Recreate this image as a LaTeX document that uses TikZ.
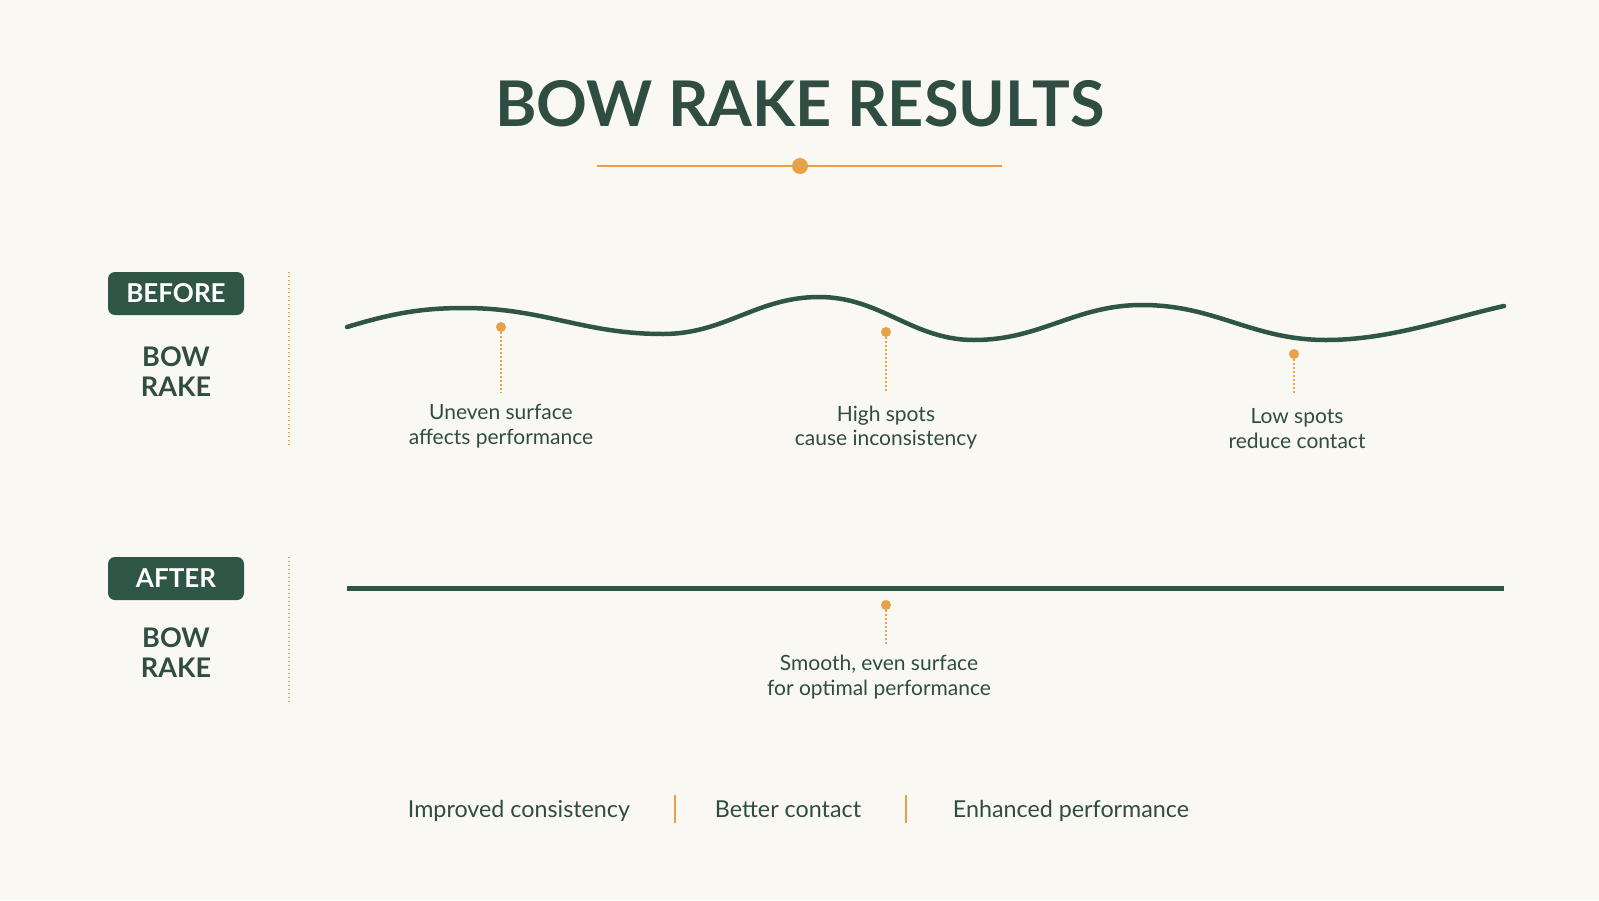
\documentclass[tikz,border=0pt]{standalone}
\usepackage{fontspec}
\setmainfont{Lato}
\definecolor{bg}{HTML}{FAF8F2}
\definecolor{dgreen}{HTML}{2F5546}
\definecolor{txtgreen}{HTML}{2F4D42}
\definecolor{accent}{HTML}{E9A04B}
\begin{document}
\begin{tikzpicture}[x=1pt,y=-1pt,
  tag/.style={fill=dgreen, rounded corners=7pt, minimum width=136pt, minimum height=43pt,
    text=white, font=\fontsize{26}{30}\selectfont\bfseries, inner sep=0pt},
  side/.style={text=txtgreen, font=\fontsize{27}{30}\selectfont\bfseries, align=center, inner sep=0pt},
  note/.style={text=txtgreen, font=\fontsize{21}{24.5}\selectfont, align=center, inner sep=0pt},
  foot/.style={text=txtgreen, font=\fontsize{23.3}{26}\selectfont, inner sep=0pt, anchor=base},
  pin/.style={circle, fill=accent, minimum size=10pt, inner sep=0pt},
  leader/.style={accent, line width=2.2pt, dash pattern=on 1.4pt off 2.6pt},
  divider/.style={accent, line width=2.2pt, dash pattern=on 1.4pt off 2.6pt},
  sepbar/.style={accent, line width=1.8pt},
  surface/.style={dgreen, line width=4.5pt, line cap=round}]
\useasboundingbox (0,0) rectangle (1599,900);
\fill[bg] (0,0) rectangle (1599,900);

% title
\node[text=txtgreen, font=\fontsize{63}{70}\selectfont\bfseries, inner sep=0pt] (title) at (800,104) {BOW RAKE RESULTS};
\coordinate (ulL) at (597,166);
\coordinate (ulR) at (1002,166);
\draw[accent, line width=2.8pt] (ulL) -- (ulR);
\node[circle, fill=accent, minimum size=16pt, inner sep=0pt] (uldot) at (800,166) {};

% BEFORE
\node[tag] (before) at (176,293.5) {BEFORE};
\node[side] (bowA) at (176,372) {BOW\\RAKE};
\coordinate (dvA1) at (289,272);
\coordinate (dvA2) at (289,447);
\draw[divider] (dvA1) -- (dvA2);

\draw[surface] (347,327) .. controls (390,314) and (420,308) .. (464,308)
  .. controls (544,308) and (583,334) .. (663,334)
  .. controls (725,334) and (757,297) .. (819,297)
  .. controls (881,297) and (912,340) .. (974,340)
  .. controls (1041,340) and (1075,305) .. (1142,305)
  .. controls (1216,305) and (1252,340) .. (1326,340)
  .. controls (1390,340) and (1450,318) .. (1504,306);

\node[pin] (p1) at (501,327) {};
\coordinate (p1e) at (501,393);
\draw[leader] (p1) -- (p1e);
\node[note] (n1) at (501,426) {Uneven surface\\affects performance};

\node[pin] (p2) at (886,332) {};
\coordinate (p2e) at (886,393);
\draw[leader] (p2) -- (p2e);
\node[note] (n2) at (886,427.5) {High spots\\cause inconsistency};

\node[pin] (p3) at (1294,354) {};
\coordinate (p3e) at (1294,393);
\draw[leader] (p3) -- (p3e);
\node[note] (n3) at (1297,428.5) {Low spots\\reduce contact};

% AFTER
\node[tag] (after) at (176,578.5) {AFTER};
\node[side] (bowB) at (176,652.5) {BOW\\RAKE};
\coordinate (dvB1) at (289,557);
\coordinate (dvB2) at (289,702);
\draw[divider] (dvB1) -- (dvB2);

\coordinate (flatL) at (347,588.5);
\coordinate (flatR) at (1504,588.5);
\draw[surface, line cap=butt] (flatL) -- (flatR);

\node[pin] (p4) at (886,605) {};
\coordinate (p4e) at (886,645);
\draw[leader] (p4) -- (p4e);
\node[note] (n4) at (879,677) {Smooth, even surface\\for optimal performance};

% footer
\node[foot] (f1) at (519,817) {Improved consistency};
\node[foot] (f2) at (788,817) {Better contact};
\node[foot] (f3) at (1071,817) {Enhanced performance};
\coordinate (s1a) at (675,795);
\coordinate (s1b) at (675,823);
\coordinate (s2a) at (906,795);
\coordinate (s2b) at (906,823);
\draw[sepbar] (s1a) -- (s1b);
\draw[sepbar] (s2a) -- (s2b);
\end{tikzpicture}
\end{document}
